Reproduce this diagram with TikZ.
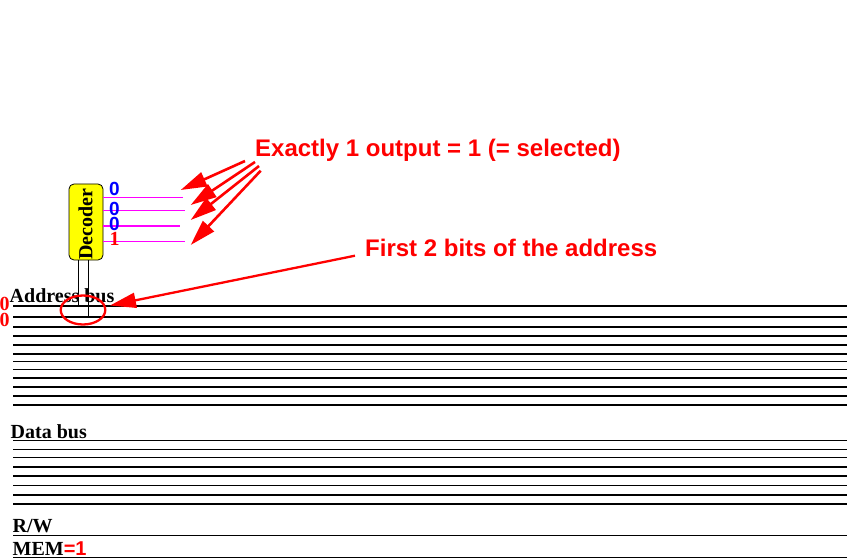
\documentclass[tikz,border=0pt]{standalone}
\usepackage{fontspec}
\setmainfont{Liberation Serif}
\newfontfamily\sansf{Liberation Sans}
\usetikzlibrary{arrows.meta}
\definecolor{magline}{RGB}{255,0,255}
\definecolor{bluedig}{RGB}{0,0,255}
\definecolor{reddig}{RGB}{255,0,0}
\definecolor{decfill}{RGB}{255,255,0}
\begin{document}
\begin{tikzpicture}[x=1pt,y=-1pt,
  busline/.style={line width=1.3pt,black},
  outline/.style={line width=1.2pt,magline},
  redarrow/.style={line width=2.6pt,reddig,-{Triangle[length=26pt,width=15pt]}},
  buslabel/.style={anchor=base west,inner sep=0pt,font=\fontsize{20}{20}\selectfont\bfseries},
  redlabel/.style={anchor=base west,inner sep=0pt,text=reddig,font=\fontsize{24}{24}\selectfont\sansf\bfseries},
  bluedigit/.style={anchor=base west,inner sep=0pt,text=bluedig,font=\fontsize{19}{19}\selectfont\sansf\bfseries},
  reddigit/.style={anchor=base west,inner sep=0pt,text=reddig,font=\fontsize{20}{20}\selectfont\bfseries},
  decbox/.style={draw=black,line width=0.8pt,fill=decfill,rounded corners=5pt,minimum width=34pt,minimum height=76pt,inner sep=0pt}
]
\useasboundingbox (0,0) rectangle (849,559);

% address bus lines
\foreach \yy in {306,317,327,336,345,354,361.5,369.5,378,387,396,405}
  \draw[busline] (13,\yy) -- (847,\yy);
% data bus lines
\foreach \yy in {440.5,449.3,457.3,467,476,485.5,495,504}
  \draw[busline] (13,\yy) -- (847,\yy);
% R/W and MEM
\draw[busline] (13,535.5) -- (847,535.5);
\draw[busline] (13,557.3) -- (847,557.3);

% labels
\node[buslabel] (addr) at (9.5,302.7) {Address bus};
\node[buslabel] (data) at (10.5,438) {Data bus};
\node[buslabel] (rw) at (12.5,532.5) {R/W};
\node[buslabel] (mem) at (12.5,555) {MEM\textcolor{reddig}{\sansf =1}};
\node[reddigit] (bitA) at (-0.5,310) {0};
\node[reddigit] (bitB) at (-0.5,326) {0};

% decoder
\node[decbox] (dec) at (86,222) {};
\node[rotate=90,inner sep=0pt,font=\fontsize{20}{20}\selectfont\bfseries] (dectext) at (85.5,224) {Decoder};

% decoder inputs
\coordinate (inA) at (78,306);
\coordinate (inB) at (88,317);
\draw[line width=1pt] (dec.south -| inA) -- (inA);
\draw[line width=1pt] (dec.south -| inB) -- (inB);

% ellipse
\draw[reddig,line width=2.3pt] (83,310) ellipse [x radius=22.3pt, y radius=14.5pt];

% decoder outputs
\coordinate (o1) at (183,197.3);
\coordinate (o2) at (185,210.7);
\coordinate (o3) at (180,226);
\coordinate (o4) at (185,241.5);
\draw[outline] (dec.east |- o1) -- (o1);
\draw[outline] (dec.east |- o2) -- (o2);
\draw[outline] (dec.east |- o3) -- (o3);
\draw[outline] (dec.east |- o4) -- (o4);
\node[bluedigit] (d1) at (109,195.3) {0};
\node[bluedigit] (d2) at (109,215.3) {0};
\node[bluedigit] (d3) at (109,230.3) {0};
\node[reddigit] (d4) at (109.5,245.7) {1};

% texts
\node[redlabel] (exact) at (255,156.5) {Exactly 1 output = 1 (= selected)};
\node[redlabel] (first) at (365,256) {First 2 bits of the address};

% arrows
\coordinate (s1) at (245,161);
\coordinate (s2) at (255,162);
\coordinate (s3) at (259,166);
\coordinate (s4) at (260.7,170.7);
\coordinate (t1) at (180.7,190);
\coordinate (t2) at (190.7,205);
\coordinate (t3) at (190.7,220);
\coordinate (t4) at (190.7,245);
\draw[redarrow] (s1) -- (t1);
\draw[redarrow] (s2) -- (t2);
\draw[redarrow] (s3) -- (t3);
\draw[redarrow] (s4) -- (t4);
\coordinate (s5) at (355,255.7);
\coordinate (t5) at (110,305.5);
\draw[redarrow,line width=2.3pt] (s5) -- (t5);
\end{tikzpicture}
\end{document}
